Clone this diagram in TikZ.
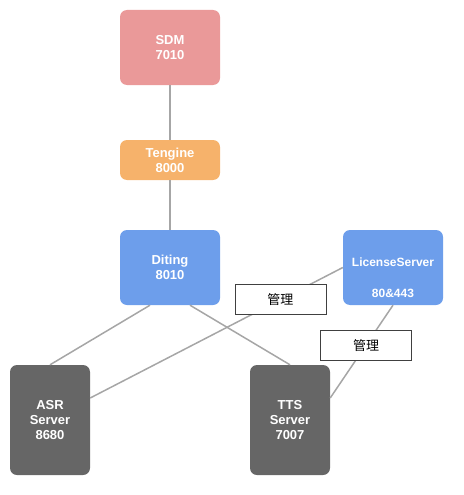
\documentclass[tikz,border=0pt]{standalone}
\usepackage{fontspec}
\setmainfont{Liberation Sans}
\newfontfamily\cjk{Noto Sans CJK SC}
\usepackage{xcolor}
\usepackage{tikz}
\usetikzlibrary{positioning}

\definecolor{sdmred}{HTML}{EA9999}
\definecolor{tengorange}{HTML}{F6B26B}
\definecolor{dtblue}{HTML}{6D9EEB}
\definecolor{srvgray}{HTML}{666666}
\definecolor{linkgray}{HTML}{A6A6A6}

\tikzset{
  svc/.style={rounded corners=7pt, text=white, align=center,
    font=\bfseries\fontsize{13}{15}\selectfont, inner sep=0pt},
  link/.style={draw=linkgray, line width=1.5pt},
  tag/.style={draw=black!75, fill=white, line width=0.8pt,
    font=\cjk\fontsize{13}{15}\selectfont, minimum width=91pt, minimum height=30pt, inner sep=0pt}
}

\begin{document}
\begin{tikzpicture}[x=1pt,y=-1pt]
        \useasboundingbox (0,0) rectangle (463,495);
        % services
        \node[svc, fill=sdmred, minimum width=100pt, minimum height=75pt] (sdm) at (170,47.5) {SDM\\7010};
        \node[svc, fill=tengorange, minimum width=100pt, minimum height=40pt] (teng) at (170,160) {Tengine\\8000};
        \node[svc, fill=dtblue, minimum width=100pt, minimum height=75pt] (dt) at (170,267.5) {Diting\\8010};
        \node[svc, fill=dtblue, minimum width=100pt, minimum height=75pt,
          label={[svc, font=\bfseries\fontsize{12}{15}\selectfont, yshift=-10pt]center:{LicenseServer\\[15.5pt]80\&443}}] (lic) at (393,267.5) {};
        \node[svc, fill=srvgray, minimum width=80pt, minimum height=110pt] (asr) at (50,420) {ASR\\Server\\8680};
        \node[svc, fill=srvgray, minimum width=80pt, minimum height=110pt] (tts) at (290,420) {TTS\\Server\\7007};
        % links
        \draw[link] (sdm) -- (teng);
        \draw[link] (teng) -- (dt);
        \draw[link] ([xshift=-20pt]dt.south) -- (asr.north);
        \draw[link] ([xshift=20pt]dt.south) -- (tts.north);
        \draw[link] (lic.west) -- ([yshift=22pt]asr.east) node[tag, pos=0.247] (mg1) {管理};
        \draw[link] (lic.south) -- ([yshift=22pt]tts.east) node[tag, pos=0.43] (mg2) {管理};
    \end{tikzpicture}
\end{document}
